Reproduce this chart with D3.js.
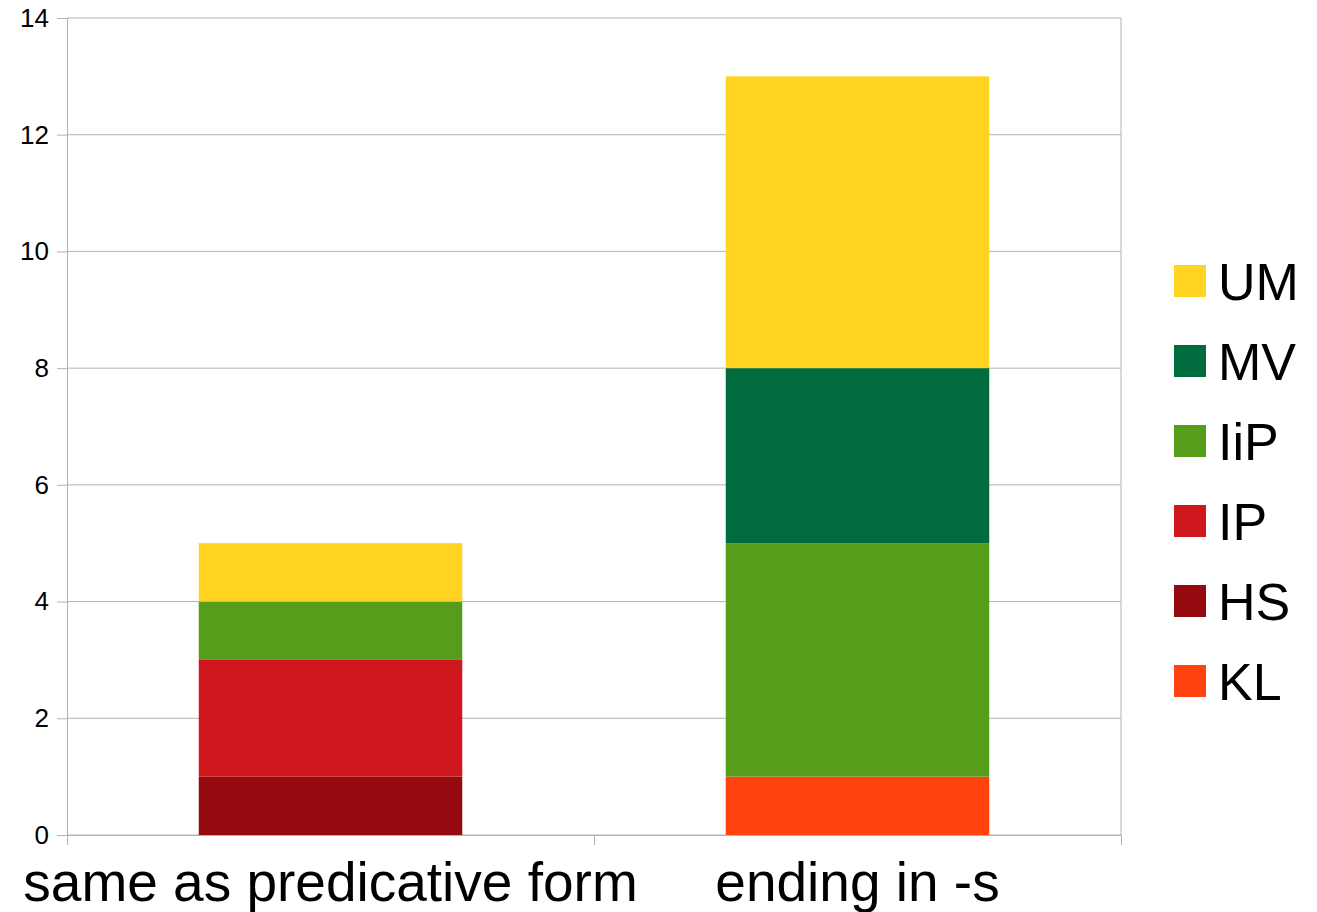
<!DOCTYPE html>
<html>
<head>
<meta charset="utf-8">
<script src="https://cdn.jsdelivr.net/npm/d3@7"></script>
<style>
  body { margin: 0; background: #fff; }
  text { font-family: "Liberation Sans", Arial, sans-serif; }
</style>
</head>
<body>
<svg id="chart" width="1317" height="912"></svg>
<script>
// categories and series (stacked bottom -> top)
const categories = ['same as predicative form', 'ending in -s'];
const seriesNames = ['KL', 'HS', 'IP', 'IiP', 'MV', 'UM'];
const KL  = [0, 1];
const HS  = [1, 0];
const IP  = [2, 0];
const IiP = [1, 4];
const MV  = [0, 3];
const UM  = [1, 5];
const seriesColors = ['#ff420e', '#950a0e', '#ce181e', '#579d1c', '#006b3c', '#ffd320'];
const yTicks = [0, 2, 4, 6, 8, 10, 12, 14];
const legendOrder = ['UM', 'MV', 'IiP', 'IP', 'HS', 'KL'];

let values = {KL, HS, IP, IiP, MV, UM};
let rows = categories.map((c, i) => {
  let r = {cat: c};
  for (let s of seriesNames) r[s] = values[s][i];
  return r;
});

let svg = d3.select('#chart');
let plotLeft = 67, plotRight = 1121, plotTop = 18, plotBottom = 835;

let xScale = d3.scaleBand()
  .domain(categories)
  .range([plotLeft, plotRight])
  .paddingInner(0.5)
  .paddingOuter(0.25);

let yScale = d3.scaleLinear()
  .domain([0, 14])
  .range([plotBottom, plotTop]);

let color = d3.scaleOrdinal().domain(seriesNames).range(seriesColors);

// grid lines
svg.append('g')
  .selectAll('line')
  .data(yTicks)
  .enter()
  .append('line')
    .attr('x1', plotLeft).attr('x2', plotRight)
    .attr('y1', d => yScale(d)).attr('y2', d => yScale(d))
    .attr('stroke', '#b3b3b3')
    .attr('stroke-width', 1);

// right border of plot area
svg.append('line')
  .attr('x1', plotRight).attr('x2', plotRight)
  .attr('y1', plotTop).attr('y2', plotBottom)
  .attr('stroke', '#b3b3b3');

// stacked bars
let stack = d3.stack().keys(seriesNames);
let layers = stack(rows);

svg.append('g')
  .selectAll('g')
  .data(layers)
  .enter()
  .append('g')
    .attr('fill', d => color(d.key))
  .selectAll('rect')
  .data(d => d)
  .enter()
  .append('rect')
    .attr('x', d => xScale(d.data.cat))
    .attr('width', xScale.bandwidth())
    .attr('y', d => yScale(d[1]))
    .attr('height', d => yScale(d[0]) - yScale(d[1]));

// y axis
let yAxis = d3.axisLeft(yScale).tickValues(yTicks).tickSize(10).tickPadding(8);
let yg = svg.append('g')
  .attr('transform', `translate(${plotLeft},0)`)
  .call(yAxis);
yg.select('.domain').attr('stroke', '#b3b3b3');
yg.selectAll('.tick line').attr('stroke', '#b3b3b3');
yg.selectAll('text')
  .attr('font-size', 26)
  .attr('font-family', '"Liberation Sans", Arial, sans-serif')
  .attr('fill', '#000');

// x axis: ticks at band edges
let xEdge = d3.scaleLinear().domain([0, categories.length]).range([plotLeft, plotRight]);
let xg = svg.append('g')
  .attr('transform', `translate(0,${plotBottom})`)
  .call(d3.axisBottom(xEdge).tickValues(d3.range(categories.length + 1)).tickSize(10).tickFormat(''));
xg.select('.domain').attr('stroke', '#b3b3b3');
xg.selectAll('.tick line').attr('stroke', '#b3b3b3');

svg.append('g')
  .selectAll('text')
  .data(categories)
  .enter()
  .append('text')
    .attr('x', d => xScale(d) + xScale.bandwidth() / 2)
    .attr('y', 901)
    .attr('text-anchor', 'middle')
    .attr('font-size', 55)
    .attr('fill', '#000')
    .text(d => d);

// legend
let legend = svg.append('g')
  .selectAll('g')
  .data(legendOrder)
  .enter()
  .append('g')
    .attr('transform', (d, i) => `translate(1174,${265 + i * 80})`);

legend.append('rect')
  .attr('width', 32)
  .attr('height', 32)
  .attr('fill', d => color(d));

legend.append('text')
  .attr('x', 44)
  .attr('y', 35)
  .attr('font-size', 52)
  .attr('fill', '#000')
  .text(d => d);
</script>
</body>
</html>
